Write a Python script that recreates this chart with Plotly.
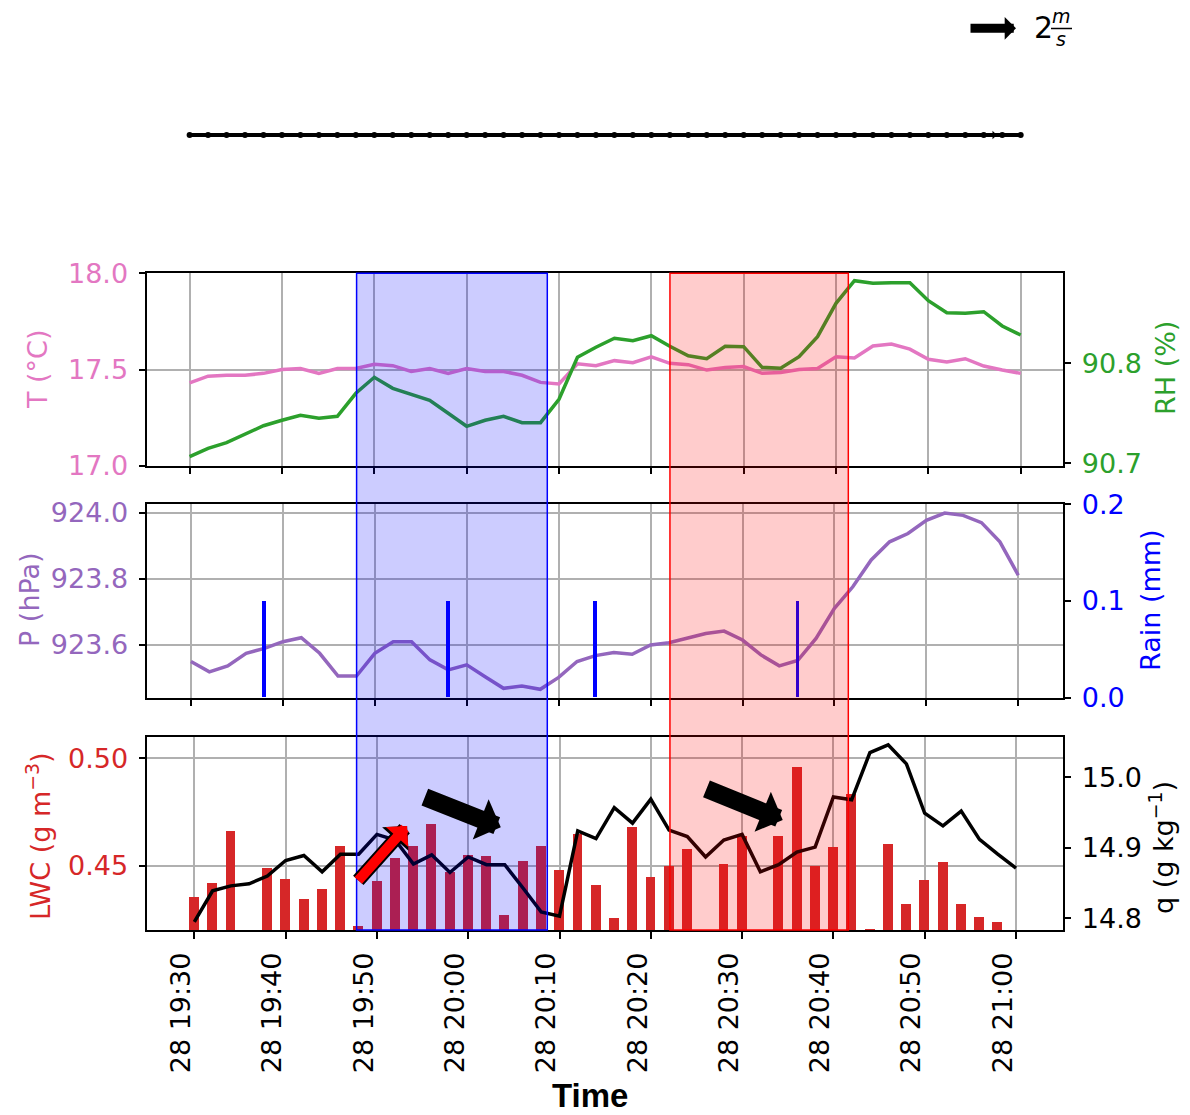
import plotly.graph_objects as go

# ---------------------------------------------------------------- data
DAY = "2019-08-28"

times = ["19:30", "19:32", "19:34", "19:36", "19:38", "19:40", "19:42", "19:44",
         "19:46", "19:48", "19:50", "19:52", "19:54", "19:56", "19:58", "20:00",
         "20:02", "20:04", "20:06", "20:08", "20:10", "20:12", "20:14", "20:16",
         "20:18", "20:20", "20:22", "20:24", "20:26", "20:28", "20:30", "20:32",
         "20:34", "20:36", "20:38", "20:40", "20:42", "20:44", "20:46", "20:48",
         "20:50", "20:52", "20:54", "20:56", "20:58", "21:00"]

temperature = [17.43, 17.465, 17.47, 17.47, 17.48, 17.50, 17.505, 17.48, 17.505, 17.505,
               17.527, 17.52, 17.49, 17.505, 17.48, 17.505, 17.49, 17.49, 17.47, 17.433,
               17.425, 17.53, 17.52, 17.546, 17.535, 17.566, 17.532, 17.525, 17.497, 17.51,
               17.515, 17.48, 17.485, 17.50, 17.505, 17.566, 17.56, 17.622, 17.632, 17.606,
               17.553, 17.539, 17.556, 17.518, 17.497, 17.48]

rel_humidity = [90.7066, 90.715, 90.7206, 90.729, 90.7376, 90.743, 90.748, 90.745, 90.747, 90.770,
                90.786, 90.775, 90.769, 90.763, 90.750, 90.737, 90.743, 90.747, 90.7406, 90.7406,
                90.764, 90.806, 90.816, 90.825, 90.8226, 90.8276, 90.817, 90.8076, 90.8046, 90.817,
                90.8166, 90.796, 90.795, 90.8066, 90.8266, 90.860, 90.8826, 90.880, 90.8806, 90.8806,
                90.8626, 90.8506, 90.850, 90.8516, 90.8373, 90.8283]

pressure = [923.55, 923.519, 923.537, 923.575, 923.59, 923.61, 923.622, 923.575, 923.506, 923.506,
            923.575, 923.61, 923.61, 923.555, 923.525, 923.54, 923.504, 923.469, 923.476, 923.466,
            923.502, 923.55, 923.568, 923.577, 923.572, 923.60, 923.607, 923.62, 923.635, 923.642,
            923.615, 923.57, 923.537, 923.553, 923.62, 923.711, 923.776, 923.857, 923.912, 923.937,
            923.977, 923.999, 923.992, 923.97, 923.912, 923.811]

rain = [0.0, 0.0, 0.0, 0.0, 0.1, 0.0, 0.0, 0.0, 0.0, 0.0,
        0.0, 0.0, 0.0, 0.0, 0.1, 0.0, 0.0, 0.0, 0.0, 0.0,
        0.0, 0.0, 0.1, 0.0, 0.0, 0.0, 0.0, 0.0, 0.0, 0.0,
        0.0, 0.0, 0.0, 0.1, 0.0, 0.0, 0.0, 0.0, 0.0, 0.0,
        0.0, 0.0, 0.0, 0.0, 0.0, 0.0]

lwc = [0.4357, 0.442, 0.4659, None, 0.4489, 0.4438, 0.4345, 0.4393, 0.459, 0.4218,
       0.4427, 0.4536, 0.4593, 0.4694, 0.4469, 0.4551, 0.4543, 0.4273, 0.452, 0.4593,
       0.4481, 0.4649, 0.4412, 0.4257, 0.4682, 0.4446, 0.4497, 0.4579, None, 0.4509,
       0.4636, None, 0.4636, 0.4958, 0.4497, 0.4587, 0.4834, 0.4206, 0.4602, 0.4324,
       0.4435, 0.4515, 0.4324, 0.426, 0.4239, None]

spec_humidity = [14.795, 14.839, 14.846, 14.849, 14.860, 14.882, 14.889, 14.866, 14.891, 14.891,
                 14.919, 14.911, 14.877, 14.890, 14.865, 14.887, 14.876, 14.876, 14.843, 14.809,
                 14.803, 14.924, 14.913, 14.957, 14.935, 14.969, 14.925, 14.916, 14.887, 14.911,
                 14.919, 14.866, 14.876, 14.894, 14.901, 14.972, 14.968, 15.035, 15.046, 15.019,
                 14.949, 14.931, 14.952, 14.912, 14.891, 14.871]

# wind row (all vectors point east)
wind_level = [0.0] * len(times)

# highlighted periods
blue_period = ("19:48:05", "20:08:44")
red_period = ("20:22:01", "20:41:20")

# callout arrows on the LWC panel: (tail time, tail LWC, head time, head LWC)
up_arrow = ("19:47:49", 0.4426, "19:53:18", 0.4686)
down_arrows = [("19:55:05", 0.4822, "20:03:34", 0.4680),
               ("20:25:56", 0.4861, "20:34:27", 0.4714)]

# ---------------------------------------------------------------- helpers
W, H = 1190, 1115
FONT = "DejaVu Sans"
FS = 27
PINK, GREEN, PURPLE, BLUE, RED = "#e377c2", "#2ca02c", "#9467bd", "#0000ff", "#d62728"


def ts(t):
    return f"{DAY} {t}"


def py(y):
    return 1 - y / H


def px(x):
    return x / W


t = [ts(v) for v in times]

XDOM = [px(147.3), px(1062.7)]
P1 = [py(465.7), py(273.3)]
P2 = [py(697.7), py(504.3)]
P3 = [py(930.0), py(737.3)]
PQ = [py(160.0), py(110.0)]

LW = 3.5

fig = go.Figure()

# panel 1: temperature and relative humidity
fig.add_trace(go.Scatter(x=t, y=temperature, mode="lines", line=dict(color=PINK, width=LW),
                         xaxis="x", yaxis="y", showlegend=False))
fig.add_trace(go.Scatter(x=t, y=rel_humidity, mode="lines", line=dict(color=GREEN, width=LW),
                         xaxis="x", yaxis="y2", showlegend=False))

# panel 2: pressure and rain
fig.add_trace(go.Scatter(x=t, y=pressure, mode="lines", line=dict(color=PURPLE, width=LW),
                         xaxis="x2", yaxis="y3", showlegend=False))
fig.add_trace(go.Bar(x=t, y=rain, width=24000, marker=dict(color=BLUE, line=dict(width=0)),
                     xaxis="x2", yaxis="y4", showlegend=False))

# panel 3: liquid water content and specific humidity
fig.add_trace(go.Bar(x=t, y=lwc, width=65000, marker=dict(color=RED, line=dict(width=0)),
                     xaxis="x3", yaxis="y5", showlegend=False))
fig.add_trace(go.Scatter(x=t, y=spec_humidity, mode="lines", line=dict(color="black", width=LW),
                         xaxis="x3", yaxis="y6", showlegend=False))

# wind row
fig.add_trace(go.Scatter(x=t, y=wind_level, mode="lines+markers",
                         line=dict(color="black", width=4),
                         marker=dict(color="black", size=6),
                         xaxis="x4", yaxis="y7", showlegend=False))

grid = dict(showgrid=True, gridcolor="#b0b0b0", gridwidth=1.5)
frame = dict(showline=True, linecolor="black", linewidth=1.5, zeroline=False, automargin=False,
             ticks="outside", ticklen=7, tickwidth=1.5, tickcolor="black")
xcommon = dict(type="date", dtick=600000, tick0=ts("19:30"), domain=XDOM, mirror=True,
               **grid, **frame)


def yfont(c):
    return dict(family=FONT, size=FS, color=c)


fig.update_layout(
    width=W, height=H,
    margin=dict(l=0, r=0, t=0, b=0, pad=0, autoexpand=False),
    paper_bgcolor="white", plot_bgcolor="white",
    font=dict(family=FONT, size=20, color="black"),
    bargap=0,
    xaxis=dict(anchor="y", range=[ts("19:25:25"), ts("21:04:33")], showticklabels=False, **xcommon),
    xaxis2=dict(anchor="y3", range=[ts("19:25:15"), ts("21:04:50")], showticklabels=False, **xcommon),
    xaxis3=dict(anchor="y5", range=[ts("19:24:51"), ts("21:05:07")], showticklabels=True,
                tickformat="%d %H:%M", tickangle=-90, tickfont=dict(family=FONT, size=FS),
                ticklabelstandoff=3, ticklabelshift=-13, **xcommon),
    xaxis4=dict(anchor="y7", domain=XDOM, range=[ts("19:25:25"), ts("21:04:33")], visible=False,
                automargin=False),
    yaxis=dict(domain=P1, anchor="x", range=[17.0, 18.0], dtick=0.5, tick0=17.0, tickformat=".1f",
               tickfont=yfont(PINK), ticklabelstandoff=5, **grid, **frame),
    yaxis2=dict(overlaying="y", anchor="x", side="right", range=[90.6976, 90.890], dtick=0.1,
                tick0=90.7, tickformat=".1f", tickfont=yfont(GREEN), showgrid=False,
                ticklabelstandoff=5, **frame),
    yaxis3=dict(domain=P2, anchor="x2", range=[923.4407, 924.0254], dtick=0.2, tick0=923.6,
                tickformat=".1f", tickfont=yfont(PURPLE), ticklabelstandoff=5, **grid, **frame),
    yaxis4=dict(overlaying="y3", anchor="x2", side="right", range=[0, 0.2], dtick=0.1,
                tickformat=".1f", tickfont=yfont(BLUE), showgrid=False, ticklabelstandoff=5, **frame),
    yaxis5=dict(domain=P3, anchor="x3", range=[0.42029, 0.50975], dtick=0.05, tick0=0.45,
                tickformat=".2f", tickfont=yfont(RED), ticklabelstandoff=5, **grid, **frame),
    yaxis6=dict(overlaying="y5", anchor="x3", side="right", range=[14.7834, 15.0567], dtick=0.1,
                tick0=14.8, tickformat=".1f", tickfont=yfont("black"), showgrid=False,
                ticklabelstandoff=5, **frame),
    yaxis7=dict(domain=PQ, anchor="x4", range=[-1, 1], visible=False, automargin=False),
)

# highlighted periods spanning all three panels
for (t0, t1), col, fill in [(blue_period, BLUE, "rgba(0,0,255,0.2)"),
                            (red_period, "#ff0000", "rgba(255,0,0,0.2)")]:
    fig.add_shape(type="rect", xref="x", yref="paper", x0=ts(t0), x1=ts(t1),
                  y0=P3[0], y1=P1[1], fillcolor=fill, line=dict(color=col, width=1.5),
                  layer="above")

ann = []

# callout arrows
tx0, ty0, tx1, ty1 = up_arrow
for width, size, col in [(14, 0.42, "black"), (10, 0.5, "red")]:
    ann.append(dict(x=ts(tx1), y=ty1, ax=ts(tx0), ay=ty0, xref="x3", yref="y5",
                    axref="x3", ayref="y5", showarrow=True, arrowhead=1, arrowsize=size,
                    arrowwidth=width, arrowcolor=col, text=""))
for tx0, ty0, tx1, ty1 in down_arrows:
    ann.append(dict(x=ts(tx1), y=ty1, ax=ts(tx0), ay=ty0, xref="x3", yref="y5",
                    axref="x3", ayref="y5", showarrow=True, arrowhead=1, arrowsize=0.4,
                    arrowwidth=18, arrowcolor="black", text=""))

# small head at the end of the wind row
ann.append(dict(x=ts("20:57:25"), y=0, xref="x4", yref="y7", ax=-12, ay=0, axref="pixel",
                ayref="pixel", showarrow=True, arrowhead=1, arrowsize=1.2, arrowwidth=1.2,
                arrowcolor="black", text=""))

# wind reference key
ann.append(dict(x=px(1016), y=py(28.3), xref="paper", yref="paper", ax=-47, ay=0,
                showarrow=True, arrowhead=1, arrowsize=0.42, arrowwidth=9, arrowcolor="black",
                text=""))
ann.append(dict(x=px(1043), y=py(27), xref="paper", yref="paper", text="2", showarrow=False,
                font=dict(family=FONT, size=30, color="black"), xanchor="center", yanchor="middle"))
ann.append(dict(x=px(1061), y=py(16), xref="paper", yref="paper", text="<i>m</i>", showarrow=False,
                font=dict(family=FONT, size=19, color="black"), xanchor="center", yanchor="middle"))
ann.append(dict(x=px(1061), y=py(39), xref="paper", yref="paper", text="<i>s</i>", showarrow=False,
                font=dict(family=FONT, size=19, color="black"), xanchor="center", yanchor="middle"))
fig.add_shape(type="line", xref="paper", yref="paper", x0=px(1051), x1=px(1072),
              y0=py(28.5), y1=py(28.5), line=dict(color="black", width=1.5))

# axis titles
titles = [("T (°C)", 37, 369, PINK), ("P (hPa)", 29, 600, PURPLE),
          ("LWC (g m<sup>−3</sup>)", 38, 836, RED), ("RH (%)", 1165, 368, GREEN),
          ("Rain (mm)", 1150, 600, BLUE), ("q (g kg<sup>−1</sup>)", 1161, 848, "black")]
for txt, x, y, col in titles:
    ann.append(dict(x=px(x), y=py(y), xref="paper", yref="paper", text=txt, showarrow=False,
                    textangle=-90, xanchor="center", yanchor="middle",
                    font=dict(family=FONT, size=FS, color=col)))
ann.append(dict(x=px(590), y=py(1095), xref="paper", yref="paper", text="<b>Time</b>",
                showarrow=False, xanchor="center", yanchor="middle",
                font=dict(family="Liberation Sans Narrow, Liberation Sans", size=33, color="black")))

fig.update_layout(annotations=ann)
fig.write_html("out.html")
